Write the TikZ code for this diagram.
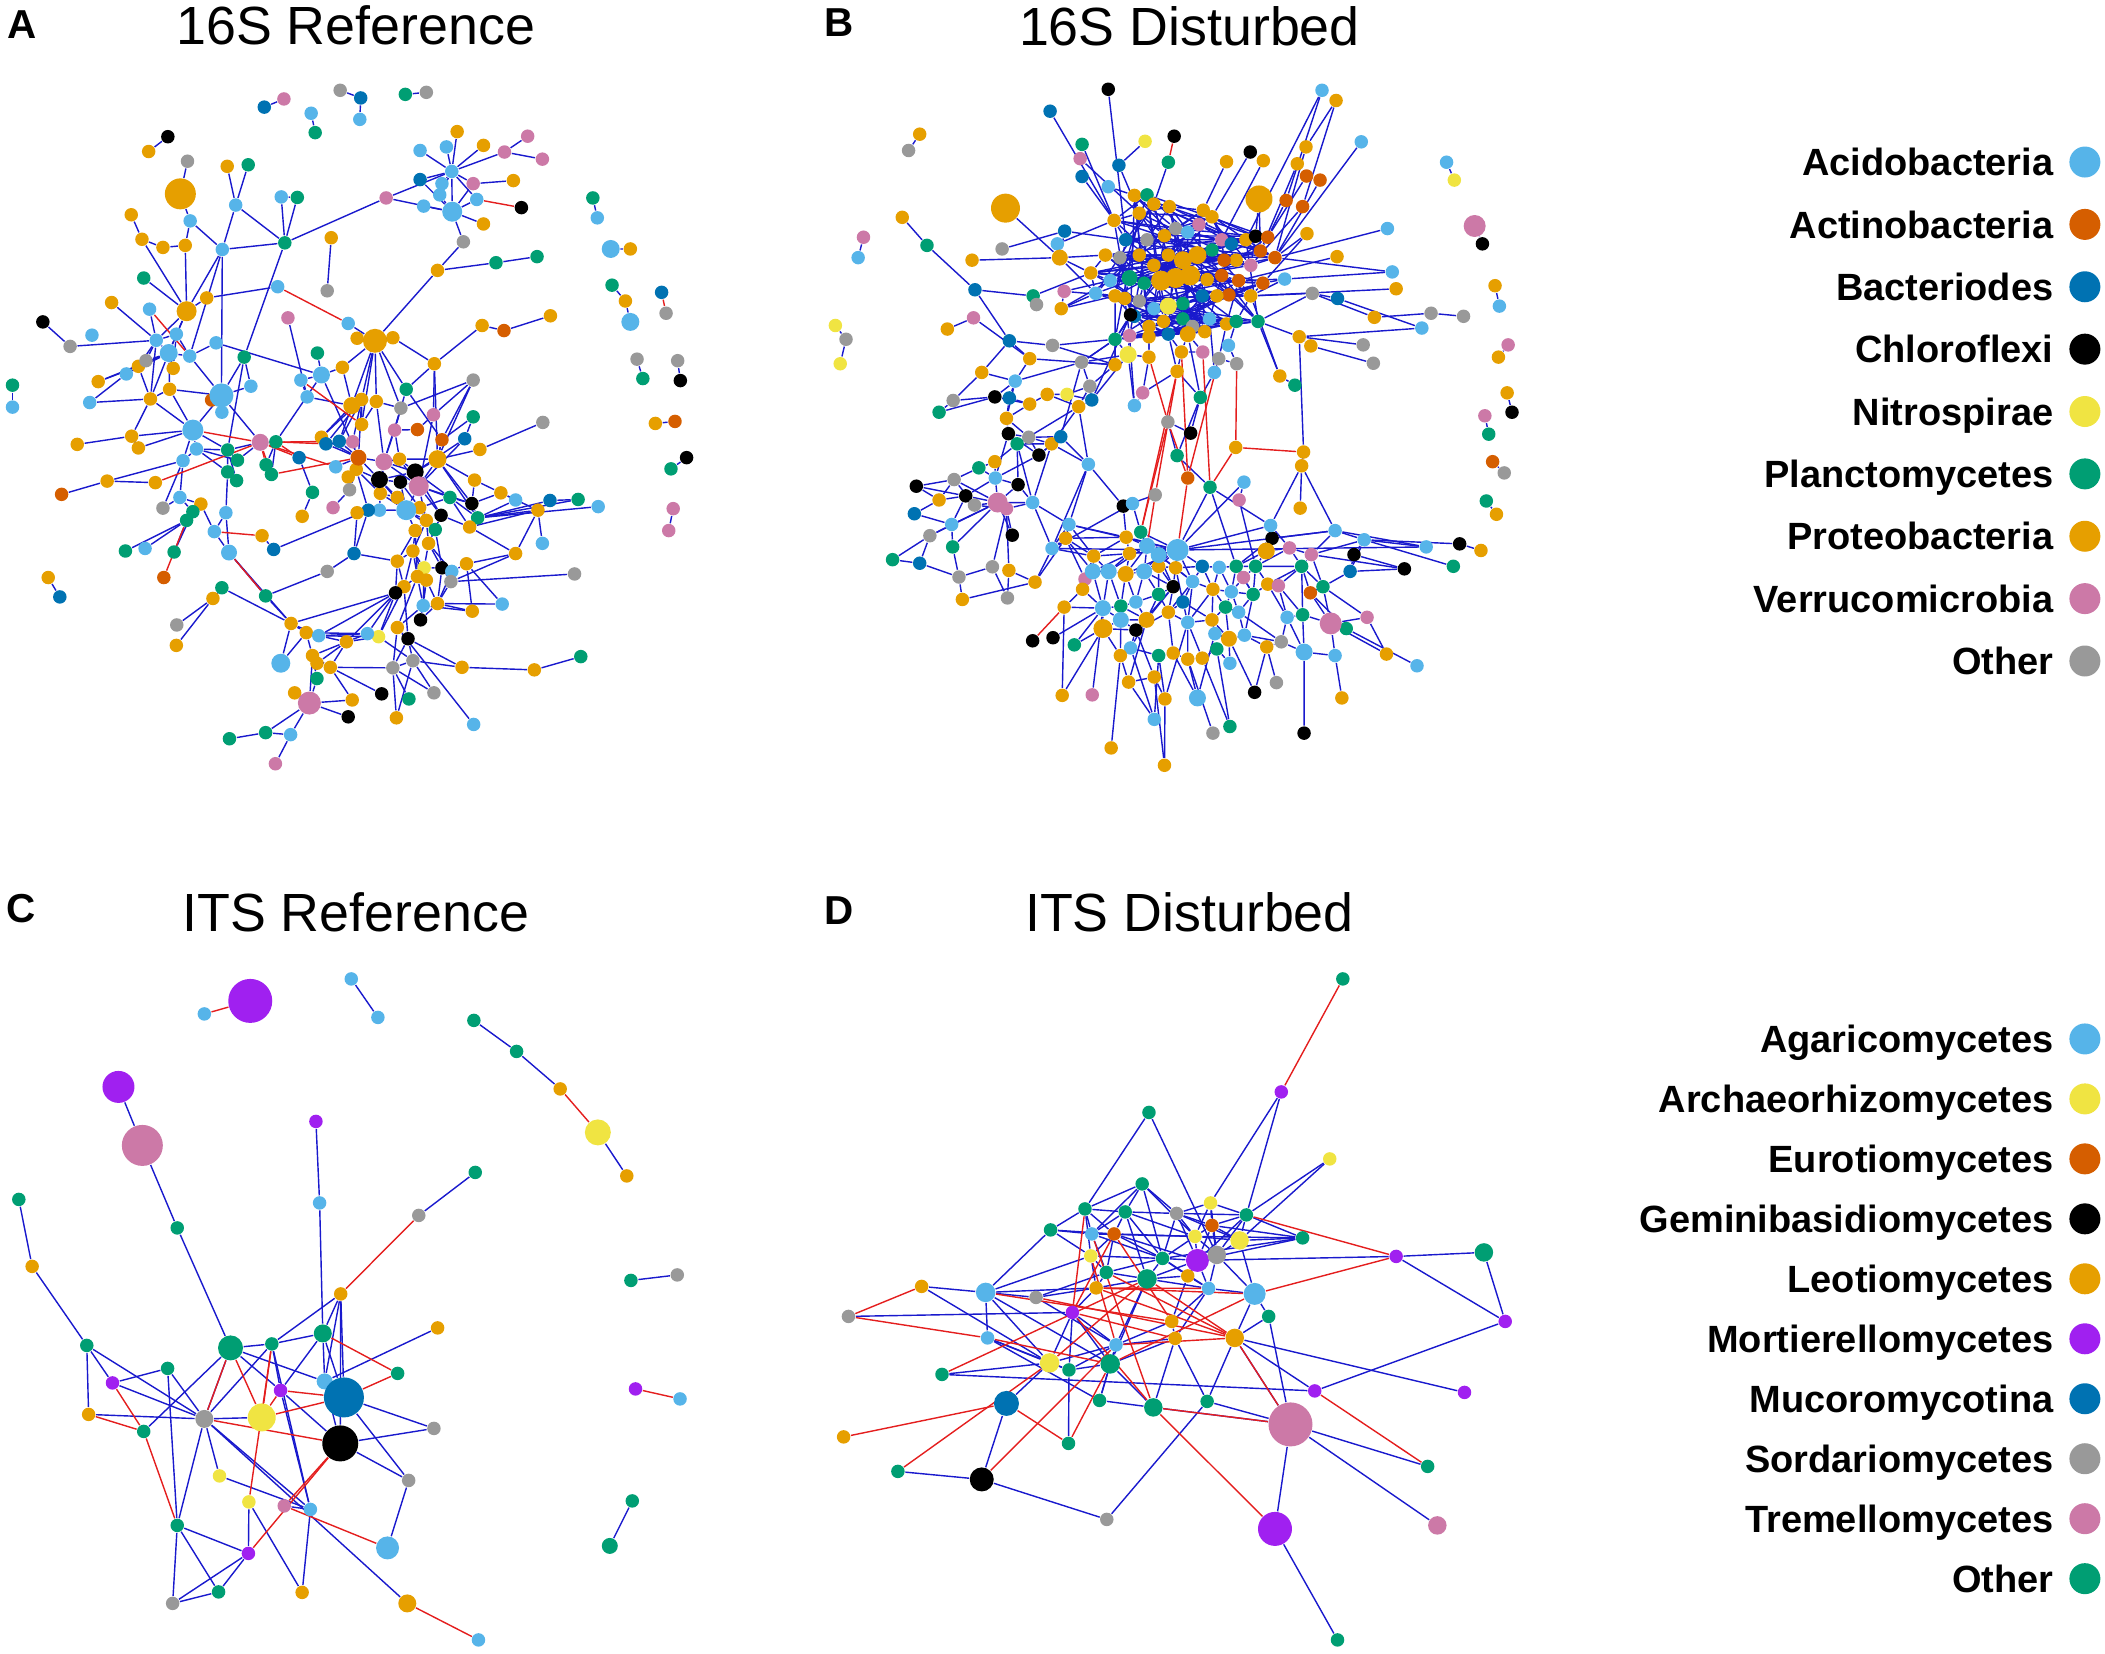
\documentclass[tikz,border=0pt]{standalone}
\usepackage{fontspec}
\setmainfont{Liberation Sans}
\usetikzlibrary{backgrounds}

% --- Palette (node classes and edge signs) ---
\definecolor{LB}{RGB}{86,180,233}
\definecolor{RD}{RGB}{213,94,0}
\definecolor{DB}{RGB}{0,114,178}
\definecolor{BK}{RGB}{0,0,0}
\definecolor{YE}{RGB}{240,228,66}
\definecolor{GR}{RGB}{0,158,115}
\definecolor{OR}{RGB}{230,159,0}
\definecolor{PK}{RGB}{204,121,167}
\definecolor{GY}{RGB}{153,153,153}
\definecolor{PU}{RGB}{160,32,240}
\definecolor{edgeblue}{RGB}{25,25,205}
\definecolor{edgered}{RGB}{228,30,30}

\begin{document}
\begin{tikzpicture}[
    x=0.13425mm, y=-0.13425mm,
    dot/.style={circle, fill=#1, inner sep=0pt, minimum size=1.35mm},
    posedge/.style={draw=edgeblue, line width=0.4pt},
    negedge/.style={draw=edgered, line width=0.4pt},
    title/.style={font=\fontsize{15.3}{18}\selectfont, inner sep=0pt},
    panel/.style={font=\fontsize{11.5}{13}\selectfont\bfseries, inner sep=0pt},
    legtext/.style={font=\fontsize{10.8}{13}\selectfont\bfseries, inner sep=0pt}
]
\useasboundingbox (0,0) rectangle (1568,1232);

% --- Titles and panel letters ---
\node[panel] (lblA) at (16.5,18) {A};
\node[panel] (lblB) at (625,17) {B};
\node[panel] (lblC) at (15.5,676.5) {C};
\node[panel] (lblD) at (625,678) {D};
\node[title, anchor=base] (ttlA) at (265,33.5) {16S Reference};
\node[title, anchor=base] (ttlB) at (886,34) {16S Disturbed};
\node[title, anchor=base] (ttlC) at (265,694) {ITS Reference};
\node[title, anchor=base] (ttlD) at (886,694) {ITS Disturbed};

% --- Panel A: 16S Reference ---
\begin{scope}[xscale=0.33253, yscale=0.38004]
    \foreach \i/\px/\py/\cl in {1/592/210/DB,2/636/194/PK,3/697/222/LB,4/706/260/GR,5/762/177/GY,6/808/192/DB,7/806/234/LB,8/908/185/GR,9/955/181/GY,10/376/268/BK,11/333/297/OR,12/1328/388/GR,13/1338/427/LB,15/1412/488/OR,16/1371/559/GR,17/1401/590/OR,19/1482/573/DB,20/1492/614/GY,21/1427/704/GY,22/1440/742/GR,23/1518/707/GY,24/1524/746/BK,25/1468/830/OR,26/1512/826/RD,27/1538/897/BK,28/1503/919/GR,29/1508/997/PK,30/1498/1040/PK,31/28/755/GR,32/28/798/LB,33/108/1132/OR,34/134/1170/DB,
        40/1024/258/OR,41/1083/285/OR,42/1182/267/PK,43/1130/298/PK,44/1215/312/PK,45/941/295/LB,46/1000/288/LB,47/1012/336/LB,48/941/352/DB,49/1060/360/PK,50/1150/354/OR,51/990/360/LB,52/985/382/LB,53/1068/391/LB,54/865/388/PK,55/1168/407/BK,56/949/404/LB,58/1083/439/OR,59/1038/474/GY,60/980/530/OR,61/1111/515/GR,62/1203/503/GR,
        70/420/316/GY,72/509/326/OR,73/556/323/GR,74/528/402/LB,75/638/476/GR,76/630/386/LB,77/666/387/GR,78/294/421/OR,79/426/433/LB,80/318/469/OR,81/365/485/OR,82/415/481/OR,84/800/663/OR,85/880/662/OR,86/498/489/LB,87/742/466/OR,88/733/570/GY,89/322/545/GR,90/463/584/OR,92/250/593/OR,93/335/606/LB,94/96/631/BK,95/157/679/GY,96/206/657/LB,97/622/562/LB,98/780/634/LB,99/645/623/PK,
        100/350/667/LB,101/395/655/LB,103/425/698/LB,104/310/718/OR,105/327/707/GY,106/388/722/OR,107/283/733/LB,108/220/748/OR,109/201/789/LB,110/337/782/OR,111/380/763/OR,112/547/700/GR,114/474/784/RD,115/497/808/LB,116/562/757/LB,117/484/672/LB,119/295/855/OR,120/310/878/OR,121/173/871/OR,122/440/880/LB,123/410/903/LB,125/618/866/GR,126/510/882/GR,127/532/902/GR,128/510/925/GR,129/530/942/GR,130/596/911/GR,131/608/930/GR,132/670/897/DB,133/240/943/OR,134/348/946/OR,135/138/969/RD,136/403/975/LB,137/365/996/GY,138/450/988/OR,139/432/1003/GR,140/418/1020/GR,141/506/1005/LB,142/480/1042/LB,144/281/1080/GR,145/325/1075/LB,146/390/1082/GR,147/367/1132/RD,148/587/1050/OR,149/613/1077/DB,150/700/965/GR,151/677/1012/OR,152/746/995/PK,153/688/778/LB,154/674/745/LB,156/711/692/GR,157/767/720/OR,
        161/810/783/OR,162/843/787/OR,163/898/800/GY,164/910/763/GR,165/973/713/OR,166/1080/638/OR,167/1129/648/RD,168/1233/619/OR,169/1060/745/GY,170/971/813/PK,171/935/842/RD,172/884/843/PK,173/990/862/RD,174/1060/817/GR,175/1041/860/DB,176/1075/881/OR,177/1216/828/GY,178/720/857/OR,179/730/870/DB,180/760/865/DB,181/790/866/PK,182/810/832/OR,184/798/920/OR,185/780/935/OR,186/752/915/LB,187/783/960/GY,190/895/900/OR,191/897/945/BK,195/852/967/OR,196/890/975/OR,198/850/1000/LB,199/940/995/OR,
        200/1008/975/GR,201/1057/987/BK,202/988/1010/BK,203/1070/1015/GR,204/1052/1033/OR,205/1063/941/OR,206/1122/966/OR,207/1155/980/LB,208/1232/981/DB,209/1295/979/GR,210/1340/993/LB,211/1205/1000/OR,212/1215/1065/LB,213/1155/1085/OR,214/955/1020/OR,215/930/1040/OR,216/975/1038/GR,217/960/1065/OR,218/925/1080/OR,219/890/1100/OR,220/950/1113/YE,221/990/1113/BK,222/1012/1120/LB,223/1045/1105/OR,224/1010/1140/GY,225/935/1130/OR,226/955/1137/OR,227/905/1150/OR,228/886/1162/BK,229/948/1187/LB,230/980/1183/OR,231/1058/1198/OR,232/1125/1184/LB,233/1287/1125/GY,234/942/1215/BK,235/890/1230/OR,236/914/1252/BK,237/848/1248/YE,238/823/1242/LB,239/825/1000/DB,240/800/1005/OR,241/793/1085/DB,242/733/1120/GY,
        250/652/1222/OR,251/686/1240/OR,252/714/1246/LB,253/776/1258/OR,254/497/1152/GR,255/477/1173/OR,256/595/1168/GR,257/396/1225/GY,258/395/1265/OR,260/700/1285/OR,261/710/1300/OR,262/740/1308/OR,263/710/1330/GR,264/880/1309/GY,265/925/1295/GY,266/1035/1308/OR,267/1197/1313/OR,268/1301/1287/GR,269/660/1358/OR,271/789/1372/OR,272/855/1360/BK,273/916/1370/GR,274/972/1358/GY,275/780/1405/BK,276/888/1407/OR,277/1061/1420/LB,278/651/1440/LB,279/595/1436/GR,280/514/1448/GR,281/617/1497/PK}
        \node[dot=\cl] (a\i) at (\px,\py) {};
    \foreach \i/\px/\py/\cl/\sz in {14/1368/488/LB/1.8,18/1412/631/LB/1.8,57/1013/415/LB/2.0,71/404/380/OR/3.1,83/840/668/OR/2.4,91/418/610/OR/2.0,102/378/692/LB/1.8,113/496/775/LB/2.4,118/432/843/LB/2.1,124/583/867/PK/1.7,143/513/1083/LB/1.6,155/720/735/LB/1.7,160/788/795/OR/1.7,183/803/897/RD/1.6,188/860/905/PK/1.7,189/850/940/BK/1.7,192/930/925/BK/1.7,193/938/953/PK/2.0,194/980/900/OR/1.8,197/910/1000/LB/2.0,259/629/1300/LB/1.9,270/693/1378/PK/2.3}
        \node[dot=\cl, minimum size=\sz mm] (a\i) at (\px,\py) {};
    \begin{pgfonlayer}{background}
    \foreach \h/\ts in {1/{2},3/{4},5/{6},6/{7},8/{9},10/{11},12/{13},14/{15},16/{17},17/{18},21/{22},23/{24},25/{26},27/{28},29/{30},31/{32},33/{34},
        47/{40,41,43,45,46,48,49,51,52,53,54,57},43/{42,44},57/{48,49,52,53,54,56,58,59},49/{50},59/{60},60/{61,83},61/{62},54/{75},
        70/{71},71/{79},74/{72,73,75,86},76/{75,77},77/{75},75/{86,112},78/{80},79/{82,86},80/{81,91},81/{82},82/{91},86/{91},89/{91},90/{91,97},87/{88},98/{83},94/{95},95/{100},92/{100},91/{100,101,102},83/{84,85,157,160,161,162,163,164,182},99/{153},
        100/{101,102,105,104,110,93},101/{102,103,106},102/{103,104,105,106,107,111,110},103/{113,117,86},104/{107,108,110},107/{109},108/{102},109/{110},110/{111,118,119},111/{118,113},113/{114,115,116,118,86},116/{112},117/{155},118/{119,120,122,123,126},119/{120,121},122/{123,126,127,128},123/{133,136,137},124/{126,127,113},125/{130,131,155},126/{127,128,129},128/{129,141},133/{134},135/{133},136/{137,138,139},138/{139,140,142},139/{140,146},140/{144,145,146},141/{142,143},142/{143},148/{149},150/{151,132},152/{187},153/{154},154/{155},155/{156,157,183},112/{113,126},
        161/{160,162,178,179,180,181,182,183},160/{157,153,178,180},162/{163,182,188},163/{172,188},164/{165,172,173},165/{170,194,85},166/{165},167/{166},168/{167},169/{163,170,173,194},170/{171,193},172/{171,188,190},173/{174,194},174/{175},175/{193,192},177/{176},176/{194},
        183/{178,179,180,181,184,185,186,188,189},184/{185,187,189,195,239},188/{189,190,192,193,195},189/{191,192,195,196,197},190/{192,193,194},191/{193,197,199},192/{193,194,200,202},193/{194,200,201,202,214,197},194/{173,203,205,201},195/{196,198,197},197/{198,199,214,216,215,239},199/{200,216,214},
        200/{201,203,204},201/{203,205,206},202/{204,216,217},203/{207,208,209,210,211},204/{211,213},205/{206},206/{207,211},208/{209},211/{212,213},213/{223,224},214/{215,217,218},215/{218,219,225},216/{217,221},217/{220,221,222},218/{219,220,225,226,227},219/{227,228,241},220/{221,225,226,229},221/{222,224,230},222/{223,224,230},223/{231,232},224/{230,233},225/{228,229,235},226/{229,230,234},227/{228,236,237},228/{237,238,250,253,252},229/{234,235,231},230/{234,231,232},235/{236,264,277},236/{264,265,266},237/{238,252,253,265},238/{252,253,251},239/{240,241,149},240/{241},241/{242},
        250/{251,252,259,256,254,143},251/{252,260,259},252/{253},253/{260,261,262},254/{255},255/{257,258},256/{143,242},260/{261,262,263,270},262/{271,272,264},264/{265,273,274,276},265/{266,274,276},266/{267},267/{268},270/{269,263,278,279,275,271},278/{279,281},279/{280}}
        {\foreach \t in \ts {\draw[posedge] (a\h) -- (a\t);}}
    \foreach \h/\t in {19/20,53/55,97/98,93/103,124/130,124/131,124/132,124/180,124/186,125/132,125/179,131/183,134/124,142/148,147/140,154/182,143/256,118/124}
        {\draw[negedge] (a\h) -- (a\t);}
    \end{pgfonlayer}
\end{scope}

% --- Panel B: 16S Disturbed ---
\begin{scope}[shift={(595.9,0)}, xscale=0.36104, yscale=0.38004]
    \foreach \i/\px/\py/\cl in {1/247/263/OR,2/224/295/GY,3/131/465/PK,4/120/505/LB,5/73/638/YE,6/95/665/GY,7/83/713/YE,8/1334/318/LB,9/1350/353/YE,11/1408/478/BK,12/1434/560/OR,13/1443/600/LB,14/1461/676/PK,15/1441/700/OR,16/1459/770/OR,17/1469/808/BK,18/1413/815/PK,19/1421/851/GR,20/1429/905/RD,21/1453/927/GY,22/1416/982/GR,23/1437/1008/OR,
        30/636/175/BK,31/516/218/DB,32/712/277/YE,33/772/267/BK,34/582/283/GR,35/578/311/PK,36/658/324/DB,37/760/318/GR,38/582/346/DB,39/636/366/LB,40/880/317/OR,41/929/298/BK,42/956/315/OR,43/1077/177/LB,44/1106/197/OR,45/1158/278/LB,46/1044/288/OR,47/1026/321/OR,48/1045/345/RD,49/1073/353/RD,50/1003/393/RD,51/1037/405/RD,54/211/426/OR,55/262/481/GR,56/355/510/OR,57/417/488/GY,59/531/478/LB,60/546/453/DB,61/1046/458/OR,62/1212/448/LB,63/1108/503/OR,64/1222/533/LB,65/1230/566/OR,66/1000/547/LB,67/1057/575/GY,68/1109/585/DB,69/1185/622/OR,70/1302/614/GY,71/1369/620/GY,72/1283/643/LB,73/1162/676/GY,74/1183/712/GY,75/1030/660/OR,76/1054/678/OR,77/990/737/OR,78/1021/755/GR,79/361/568/DB,
        80/481/580/GR,81/488/597/GY,82/545/571/PK,83/539/605/OR,84/358/623/PK,85/304/645/OR,86/432/668/DB,87/521/677/GY,88/474/703/OR,89/375/730/OR,90/444/747/LB,91/581/710/GY,92/598/757/GY,93/551/773/YE,94/510/773/OR,95/474/792/OR,96/402/778/BK,97/432/780/DB,98/316/785/GY,99/287/808/GR,100/575/797/OR,101/602/784/DB,102/690/795/LB,103/707/770/PK,104/759/827/GY,105/806/849/BK,106/826/779/GR,107/778/893/GR,108/855/730/LB,109/864/703/GY,110/901/713/GY,111/884/677/LB,112/831/690/PK,113/778/728/OR,114/787/690/OR,115/720/700/OR,117/650/715/OR,
        120/690/383/OR,121/716/382/GR,122/730/400/OR,123/762/405/OR,124/700/418/OR,125/648/432/OR,126/672/470/DB,127/716/470/GY,128/752/462/OR,129/775/448/GY,130/800/455/LB,131/823/440/PK,132/832/412/OR,133/850/425/OR,134/870/470/PK,135/890/478/DB,136/920/470/OR,137/940/463/BK,138/965/465/RD,139/950/492/RD,140/980/505/RD,141/930/520/PK,142/900/510/OR,143/875/510/RD,144/850/490/GR,147/760/500/OR,148/730/520/OR,149/700/500/OR,150/660/505/GY,151/630/500/OR,152/600/535/OR,153/640/550/LB,155/710/555/GR,159/840/548/OR,160/870/540/RD,161/905/550/RD,162/930/580/OR,163/955/555/RD,164/885/578/RD,165/860/580/OR,166/830/580/DB,167/790/595/GR,169/730/605/LB,170/700/590/GY,171/670/585/OR,172/690/620/DB,173/720/640/OR,174/750/630/OR,175/790/625/GR,176/810/640/GY,177/845/625/LB,178/880/635/OR,179/900/630/GR,180/680/658/PK,181/720/660/OR,182/760/655/DB,184/835/650/OR,185/650/665/GR,186/682/617/BK,187/650/580/OR,188/610/575/LB,189/945/630/GR,
        200/426/820/OR,201/430/850/BK,202/472/857/GY,203/448/870/GR,204/493/892/BK,205/519/870/OR,206/538/856/DB,207/595/910/LB,208/402/905/OR,209/369/917/GR,210/403/937/LB,211/450/950/BK,212/240/953/BK,213/318/940/GY,214/287/980/OR,215/342/972/BK,216/360/990/GY,218/426/997/PK,219/480/985/LB,220/236/1007/DB,221/313/1028/LB,222/268/1050/GY,223/438/1049/BK,224/315/1072/GR,225/191/1097/GR,226/247/1104/DB,227/328/1131/GY,228/397/1111/GY,229/431/1118/OR,230/335/1175/OR,231/428/1172/GY,232/485/1141/OR,233/667/992/BK,234/733/970/GY,235/686/987/LB,236/800/937/RD,237/846/955/GR,238/899/877/OR,239/1039/886/OR,240/1035/913/OR,241/916/945/LB,242/906/980/PK,243/1032/996/OR,
        250/555/1028/LB,251/520/1075/LB,252/548/1055/OR,253/673/1053/OR,254/703/1043/GR,258/680/1085/OR,259/606/1090/OR,261/588/1135/PK,265/740/1110/OR,266/775/1113/OR,267/830/1110/DB,268/865/1112/LB,269/900/1110/GR,270/940/1110/GR,271/915/1132/PK,272/770/1150/BK,273/810/1140/LB,274/852/1155/OR,275/890/1160/LB,276/935/1165/GR,277/965/1145/OR,278/987/1148/PK,280/974/1055/BK,281/1055/1087/PK,282/1010/1074/PK,283/1035/1110/GR,284/1079/1150/GR,285/1053/1162/RD,286/1104/1040/LB,287/1164/1058/LB,288/1143/1087/BK,289/1135/1120/DB,290/1247/1115/BK,291/1292/1072/LB,292/1361/1066/BK,293/1348/1110/GR,294/1405/1079/OR,295/971/1030/LB,296/545/1190/OR,297/583/1155/OR,299/662/1188/GR,
        300/693/1180/LB,301/740/1165/GR,305/693/1235/BK,306/760/1200/OR,307/790/1180/DB,308/800/1220/LB,309/850/1215/OR,310/878/1190/GR,311/905/1200/LB,312/856/1242/LB,314/917/1245/LB,315/963/1268/OR,316/993/1258/GY,317/1005/1210/LB,318/1037/1205/GR,320/1127/1232/GR,321/1170/1210/PK,323/1104/1285/LB,324/1210/1282/OR,325/1273/1305/LB,326/480/1256/BK,327/522/1250/BK,328/566/1264/GR,329/682/1270/LB,330/740/1285/GR,331/770/1280/OR,332/800/1292/OR,333/830/1290/OR,334/860/1272/GR,335/887/1300/LB,336/661/1285/OR,337/678/1337/OR,338/731/1327/OR,339/541/1363/OR,340/603/1362/PK,341/753/1370/OR,343/938/1357/BK,344/983/1338/GY,345/1118/1368/OR,346/731/1410/LB,347/852/1437/GY,348/887/1424/GR,349/1040/1437/BK,350/642/1466/OR,351/752/1500/OR}
        \node[dot=\cl] (b\i) at (\px,\py) {};
    \foreach \i/\px/\py/\cl/\sz in {10/1392/443/PK/2.2,52/947/390/OR/2.7,53/424/408/OR/2.9,58/536/505/OR/1.6,116/677/695/YE/1.7,145/820/500/OR/1.8,146/790/510/OR/1.8,154/680/545/GR/1.6,156/745/550/OR/2.0,157/775/545/OR/2.0,158/805/540/OR/2.0,168/760/600/YE/1.7,183/800/655/OR/1.6,217/408/985/PK/2.0,255/716/1070/LB/1.6,256/740/1088/LB/1.6,257/779/1078/LB/2.2,260/604/1120/LB/1.6,262/637/1120/LB/1.6,263/672/1125/OR/1.6,264/710/1120/LB/1.6,279/962/1080/OR/1.7,298/625/1192/LB/1.6,302/715/1215/OR/1.6,303/662/1215/LB/1.6,304/625/1232/OR/1.9,313/885/1252/OR/1.6,319/1095/1222/PK/2.2,322/1040/1278/LB/1.7,342/820/1368/LB/1.7}
        \node[dot=\cl, minimum size=\sz mm] (b\i) at (\px,\py) {};
    \begin{pgfonlayer}{background}
    % dense upper module
    \foreach \i in {120,...,189} {
        \foreach \k in {1,4,9,17} {
            \pgfmathtruncatemacro{\j}{120+mod(\i-120+\k,70)}
            \draw[posedge] (b\i) -- (b\j);
        }
    }
    \foreach \h/\ts in {1/{2},3/{4},5/{6},6/{7},8/{9},10/{11},12/{13},14/{15},16/{17},18/{19},20/{21},22/{23},
        30/{126},31/{125},32/{36},34/{125},35/{124},36/{124},37/{122},38/{125},39/{120},40/{132},41/{133},42/{134},43/{50,136},44/{51,46},45/{140},46/{140},47/{139},48/{138},49/{140},50/{138},51/{141},52/{137,139},53/{58},54/{55},55/{79},56/{58},57/{60},58/{59,60,151,152},59/{125},60/{126},61/{140,163},62/{140},63/{161},64/{66,140},65/{162},66/{161,162,163},67/{162,189},68/{67,72},69/{67,70},70/{71},72/{75},75/{73,189,76,239},76/{74},77/{189,78,162},
        79/{80,86},80/{81,152},82/{83,153},83/{153,188},84/{85,88},86/{87,88,89},87/{185,117},88/{90,117},89/{90,98},90/{96,97,91},91/{117,116,185,92},92/{93,100,101,117},93/{94,101},94/{95,100},95/{96,97,200},96/{97,98,99},98/{99},100/{101,203,205,207},101/{116,186},102/{103,116,180},103/{115,113},104/{107},105/{104,106},106/{113,183,108,107},107/{237},108/{109,177},109/{110,178},111/{110,179},112/{114,183},113/{114,182},114/{182,183},115/{116,181,173},116/{117,185,180},117/{185,187},185/{91},187/{82,83},188/{152,58},
        200/{201,202,90,97},201/{202,203,210,204},202/{203,206,204,205},203/{208,211,205,219},204/{205,210,206},205/{206,207,219},206/{91,207},207/{250,251},208/{209,210},209/{213,210},210/{211,215,217},211/{217,219},212/{213,214,215},213/{214,216,217},214/{215,220},215/{216,217,221},216/{217,218},217/{218,219,221,222,223},218/{219,223,228,229},219/{250,251},220/{221},221/{222,224},222/{225,226},224/{217,227},225/{226},226/{227},227/{228,230},228/{231},229/{231,232},230/{232},232/{251,252},233/{234,235,253,207},235/{251,254},241/{242,257},242/{270},237/{257,295,269},239/{240},240/{295,286,243},
        257/{254,255,256,265,266,267,253,258,263,264,273,272,251,250,286,295,291},255/{253,254,256,258,262,263,264},256/{264,265,266,272,273},253/{250,252,258,259},250/{251,252,259},251/{252,259},252/{259,260,261},258/{259,260,262,263},259/{260,261,262},260/{261,262,297,298},262/{263,298,299},263/{264,299,300},264/{265,300,301,272},265/{266,272,301},266/{267,273,307},267/{268,273,274},268/{269,274,275},269/{270,271,275,276,279,280},270/{271,276,277,279,282,283},271/{275,276},272/{301,302,305,306},273/{274,306,307,308},274/{275,308,309,310},275/{276,310,311},276/{277,311,314},277/{278,283,317},278/{283,317,318},279/{280,282,295},280/{295,286},281/{282,283,284,286,287,290},282/{283,295},283/{284,285,318},284/{285,289,319,321},285/{319,320},286/{287,291},287/{288,289,291,292},288/{289,290},289/{290},292/{294},293/{287},
        296/{297,298,339},297/{298,260},298/{299,303,304,340},299/{300,303,302},300/{301,302},301/{306,302},302/{303,305,329,337},303/{304,305,336},304/{305,339,336},305/{306,329,338},306/{307,308,331},307/{308,309},308/{309,332,333,341},309/{310,312,313},310/{311,313},311/{314,316},312/{313,342},313/{314,335,343},314/{315,316},315/{316,344},316/{317,322},317/{318,322},318/{319,322},319/{320,321,323,324},320/{325},321/{324},323/{322},327/{298},328/{298,304},329/{330,346},330/{331,341,346},331/{332,342},332/{333,342,347},333/{334,348},334/{335,348},336/{337,350},337/{338,346},338/{341,351},341/{351},343/{315},345/{323},349/{322}}
        {\foreach \t in \ts {\draw[posedge] (b\h) -- (b\t);}}
    \foreach \h/\t in {33/37,113/234,113/254,114/236,115/104,104/254,110/238,238/239,238/237,236/257,234/255,326/296,104/236,109/236,112/237}
        {\draw[negedge] (b\h) -- (b\t);}
    \end{pgfonlayer}
\end{scope}

% --- Panel C: ITS Reference ---
\begin{scope}[shift={(0,648.0)}, xscale=0.34204, yscale=0.37244]
    \foreach \i/\px/\py/\cl in {2/445/288/LB,3/765/218/LB,4/823/295/LB,5/1032/301/GR,6/1125/363/GR,7/1220/438/OR,9/1365/612/OR,12/386/716/GR,14/688/503/PU,15/696/666/LB,16/1035/605/GR,17/912/691/GY,18/742/848/OR,19/41/659/GR,20/70/793/OR,21/189/951/GR,22/953/916/OR,24/592/948/GR,25/365/997/GR,26/245/1026/PU,27/193/1089/OR,28/313/1123/GR,31/611/1041/PU,34/866/1007/GR,35/945/1117/GY,37/890/1221/GY,38/478/1212/YE,39/542/1264/YE,40/619/1272/PK,41/676/1279/LB,43/386/1311/GR,44/541/1367/PU,45/476/1444/GR,46/376/1467/GY,47/658/1445/OR,49/1042/1540/LB,50/1374/821/GR,51/1475/810/GY,52/1384/1038/PU,53/1481/1058/LB,54/1377/1262/GR}
        \node[dot=\cl] (c\i) at (\px,\py) {};
    \foreach \i/\px/\py/\cl/\sz in {1/545/262/PU/4.4,8/1302/525/YE/2.6,10/258/434/PU/3.2,11/310/551/PK/4.1,13/502/956/GR/2.5,23/703/927/GR/1.8,29/445/1098/GY/1.8,30/570/1095/YE/2.8,32/707/1023/LB/1.6,33/749/1055/DB/4.0,36/741/1147/BK/3.6,42/844/1356/LB/2.3,48/887/1467/OR/1.8,55/1328/1352/GR/1.6}
        \node[dot=\cl, minimum size=\sz mm] (c\i) at (\px,\py) {};
    \begin{pgfonlayer}{background}
    \foreach \h/\ts in {3/{4},5/{6},6/{7},8/{9},10/{11},11/{12},12/{13},14/{15},15/{23},16/{17},19/{20},20/{21},50/{51},54/{55},
        21/{26,27,29},26/{25,29},25/{29,43},27/{29},28/{13},29/{13,24,30,41,43,38,48},13/{24,32,31},24/{31,23,18,41},23/{18,32,33,31},18/{32,33,36},32/{22,36},33/{35,37},36/{35,37},31/{41,36},37/{42},41/{47,38,40},43/{44,45,46},44/{45,46},45/{46},39/{47,44}}
        {\foreach \t in \ts {\draw[posedge] (c\h) -- (c\t);}}
    \foreach \h/\t in {1/2,7/8,17/18,52/53,48/49,13/29,13/30,24/30,24/39,23/34,33/34,33/30,36/40,36/44,29/36,30/31,31/33,40/42,43/28,27/28,26/28}
        {\draw[negedge] (c\h) -- (c\t);}
    \end{pgfonlayer}
\end{scope}

% --- Panel D: ITS Disturbed ---
\begin{scope}[shift={(595.9,648.0)}, xscale=0.36104, yscale=0.37244]
    \foreach \i/\px/\py/\cl in {1/1120/218/GR,2/993/444/PU,3/720/485/GR,4/1093/578/YE,5/706/628/GR,6/588/678/GR,7/671/684/GR,8/777/687/GY,9/847/666/YE,10/921/690/GR,11/517/720/GR,12/602/728/LB,13/648/728/RD,14/815/733/YE,15/850/711/RD,17/1037/736/GR,18/600/772/YE,19/748/777/GR,22/632/805/GR,23/800/812/OR,25/611/836/OR,26/843/837/LB,28/1230/773/PU,30/251/833/OR,32/487/855/GY,33/100/893/GY,34/562/885/PU,35/967/893/GR,36/1455/903/PU,37/767/903/OR,38/774/937/OR,40/387/936/LB,41/652/950/LB,43/555/1000/GR,45/293/1009/GR,46/1062/1042/PU,47/1371/1045/PU,49/618/1061/GR,51/840/1063/GR,53/90/1134/OR,54/554/1147/GR,55/202/1203/GR,57/1295/1193/GR,58/633/1299/GY,61/1109/1540/GR}
        \node[dot=\cl] (d\i) at (\px,\py) {};
    \foreach \i/\px/\py/\cl/\sz in {16/907/741/YE/1.85,20/820/781/PU/2.3,21/860/770/GY/1.85,24/716/818/GR/1.95,27/938/848/LB/2.2,29/1411/765/GR/1.85,31/383/845/LB/1.95,39/897/936/OR/1.85,42/515/986/YE/1.95,44/640/988/GR/1.95,48/426/1067/DB/2.5,50/729/1075/GR/1.85,52/1012/1109/PK/4.4,56/375/1219/BK/2.4,59/980/1318/PU/3.4,60/1315/1311/PK/1.85}
        \node[dot=\cl, minimum size=\sz mm] (d\i) at (\px,\py) {};
    \begin{pgfonlayer}{background}
    \foreach \h/\ts in {2/{9,10},3/{6,21},4/{10,16},5/{6,7,8,12,14,19},6/{7,11,12,13,18},7/{8,12,13,14,19,24},8/{9,10,14,15,16,19,20},9/{10,14,15,21},10/{15,16,17,21,20},11/{12,13,18,31},12/{13,14,19,22},13/{14,19,20,22,18},14/{15,16,19,20,21},15/{16,20,21,17},16/{17,21,27},17/{20,19,14},18/{22,25,19,31},19/{20,22,23,24,26},20/{21,23,26,24},21/{26,27},22/{24,25,32},23/{24,26,37},24/{25,26,41,44},25/{32,34,31},26/{27,38},27/{35,39},28/{29,36,20},29/{36},30/{31,42},31/{32,40,42,44},32/{41},33/{34},34/{41,42,43,44},35/{52,39},36/{46},37/{38,41,26},38/{41,44,51,50},39/{51,52},40/{42,43,49},41/{42,43,44,49},42/{43,45},43/{44,54},44/{49,50},45/{46},46/{39},47/{39},48/{56,42},49/{50},50/{52},51/{58,52},52/{57,59,60},55/{56},56/{58},59/{61}}
        {\foreach \t in \ts {\draw[posedge] (d\h) -- (d\t);}}
    \foreach \h/\t in {1/2,28/10,28/27,33/30,33/40,53/48,55/42,56/41,54/48,54/44,52/39,52/50,59/50,46/57,45/24,31/37,34/38,34/50,40/44,12/50,18/41,25/39,13/34,22/39,41/39,42/24,13/37,6/34,24/39,44/27,25/26,32/39,25/27}
        {\draw[negedge] (d\h) -- (d\t);}
    \end{pgfonlayer}
\end{scope}

% --- Legends ---
\foreach \k/\name/\cl in {1/Acidobacteria/LB,2/Actinobacteria/RD,3/Bacteriodes/DB,4/Chloroflexi/BK,5/Nitrospirae/YE,6/Planctomycetes/GR,7/Proteobacteria/OR,8/Verrucomicrobia/PK,9/Other/GY} {
    \node[legtext, anchor=base east] (bt\k) at (1530,{130.9+46.46*(\k-1)}) {\name};
    \node[dot=\cl, minimum size=3.1mm] (bk\k) at (1553,{120.7+46.46*(\k-1)}) {};
}
\foreach \k/\name/\cl in {1/Agaricomycetes/LB,2/Archaeorhizomycetes/YE,3/Eurotiomycetes/RD,4/Geminibasidiomycetes/BK,5/Leotiomycetes/OR,6/Mortierellomycetes/PU,7/Mucoromycotina/DB,8/Sordariomycetes/GY,9/Tremellomycetes/PK,10/Other/GR} {
    \node[legtext, anchor=base east] (ft\k) at (1530,{784.1+44.67*(\k-1)}) {\name};
    \node[dot=\cl, minimum size=3.1mm] (fk\k) at (1553,{773.9+44.67*(\k-1)}) {};
}
\end{tikzpicture}
\end{document}
